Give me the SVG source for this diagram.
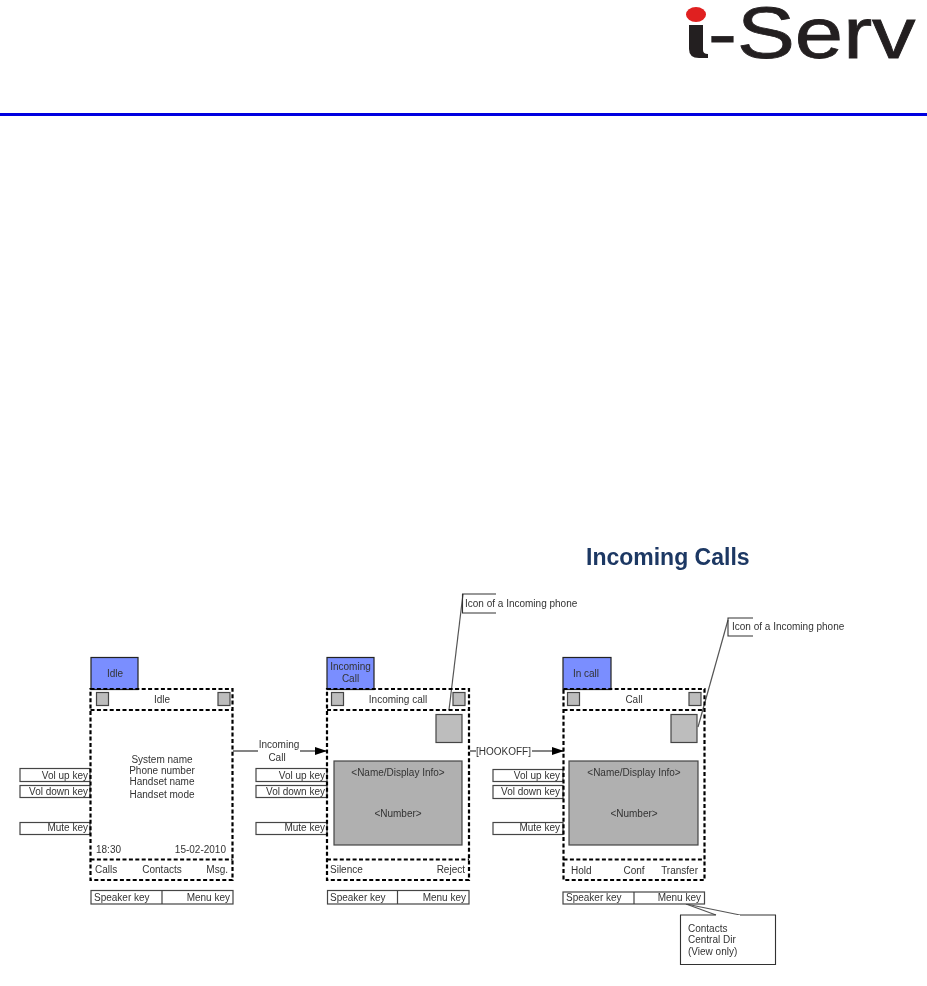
<svg xmlns="http://www.w3.org/2000/svg" width="927" height="986" viewBox="0 0 927 986">
<style>
text{font-family:"Liberation Sans",Arial,sans-serif;font-size:10px;fill:#333}
.m{text-anchor:middle}.e{text-anchor:end}
.tab{fill:#7a8eff;stroke:#222;stroke-width:1.2}
.dash{fill:none;stroke:#000;stroke-width:2.2;stroke-dasharray:4 2.4}
.key{fill:#fff;stroke:#444;stroke-width:1.2}
.ico{fill:#bdbdbd;stroke:#444;stroke-width:1.2}
.disp{fill:#b0b0b0;stroke:#444;stroke-width:1.2}
.ln{fill:none;stroke:#222;stroke-width:1.1}
.ld{fill:none;stroke:#555;stroke-width:1.2}
.callout{fill:#fff;stroke:#333;stroke-width:1.1}
</style>
<defs>
<marker id="arr" markerWidth="13" markerHeight="8" refX="12" refY="4" orient="auto" markerUnits="userSpaceOnUse"><path d="M0 0L12 4L0 8z" fill="#000"/></marker>
<filter id="soft" x="-5%" y="-5%" width="110%" height="110%"><feGaussianBlur stdDeviation="0.35"/></filter>
</defs>
<rect width="927" height="986" fill="#fff"/>
<g id="logo">
<ellipse cx="696" cy="14.500" rx="10" ry="7.500" fill="#e02020"/>
<path d="M689 25H703V50Q703 54 708 54V58H699Q689 58 689 49Z" fill="#231f20"/>
<text transform="translate(708 58) scale(1.19 1)" style="font-size:73px;fill:#231f20;stroke:#231f20;stroke-width:0.8">-Serv</text>
</g>
<rect id="header-rule" x="0" y="113" width="927" height="3" fill="#0000e0"/>
<g filter="url(#soft)">
<text id="title" x="586" y="565" style="font-size:23px;font-weight:bold;fill:#1f3864">Incoming Calls</text>

<g id="connectors">
<path class="ln" d="M233 751H258"/>
<path class="ln" d="M300 751H327" marker-end="url(#arr)"/>
<path class="ln" d="M470 751H476"/>
<path class="ln" d="M532 751H564" marker-end="url(#arr)"/>
<path class="ld" d="M463 594L449 710"/>
<path class="ld" d="M728 620L698 727"/>
<path class="ld" d="M686 904L716 915"/>
<path class="ld" d="M686 904L740 915"/>
</g>

<g id="phone-idle">
<rect class="tab" x="91" y="657.500" width="47" height="32"/>
<text class="m" x="115" y="677">Idle</text>
<rect class="key" x="20" y="768.500" width="70" height="13"/><text class="e" x="88" y="779">Vol up key</text>
<rect class="key" x="20" y="785.500" width="70" height="12"/><text class="e" x="88" y="795">Vol down key</text>
<rect class="key" x="20" y="822.500" width="70" height="12"/><text class="e" x="88" y="831">Mute key</text>
<rect class="dash" x="90.500" y="689" width="142" height="191"/>
<path class="dash" d="M90.500 710H232.500M90.500 859.500H232.500"/>
<rect class="ico" x="96.500" y="692.500" width="12" height="13"/>
<rect class="ico" x="218" y="692.500" width="12" height="13"/>
<text class="m" x="162" y="703">Idle</text>
<text class="m" x="162" y="763">System name</text>
<text class="m" x="162" y="774">Phone number</text>
<text class="m" x="162" y="785">Handset name</text>
<text class="m" x="162" y="798">Handset mode</text>
<text x="96" y="853">18:30</text><text class="e" x="226" y="853">15-02-2010</text>
<text x="95" y="873">Calls</text><text class="m" x="162" y="873">Contacts</text><text class="e" x="228" y="873">Msg.</text>
<rect class="key" x="91" y="890.500" width="142" height="13.500"/>
<path class="key" d="M162 890.500V904"/>
<text x="94" y="901">Speaker key</text><text class="e" x="230" y="901">Menu key</text>
</g>

<text id="label-incoming" class="m" x="279" y="748">Incoming</text>
<text class="m" x="277" y="761">Call</text>

<g id="phone-incoming">
<rect class="tab" x="327" y="657.500" width="47" height="32"/>
<text class="m" x="350.500" y="670">Incoming</text><text class="m" x="350.500" y="682">Call</text>
<rect class="key" x="256" y="768.500" width="71" height="13"/><text class="e" x="325" y="779">Vol up key</text>
<rect class="key" x="256" y="785.500" width="71" height="12"/><text class="e" x="325" y="795">Vol down key</text>
<rect class="key" x="256" y="822.500" width="71" height="12"/><text class="e" x="325" y="831">Mute key</text>
<rect class="dash" x="327" y="689" width="142" height="191"/>
<path class="dash" d="M327 710H469M327 859.500H469"/>
<rect class="ico" x="331.500" y="692.500" width="12" height="13"/>
<rect class="ico" x="453" y="692.500" width="12" height="13"/>
<text class="m" x="398" y="703">Incoming call</text>
<rect class="ico" x="436" y="714.500" width="26" height="28"/>
<rect class="disp" x="334" y="761" width="128" height="84"/>
<text class="m" x="398" y="776">&lt;Name/Display Info&gt;</text>
<text class="m" x="398" y="817">&lt;Number&gt;</text>
<text x="330" y="873">Silence</text><text class="e" x="465" y="873">Reject</text>
<rect class="key" x="327.500" y="890.500" width="141.500" height="13.500"/>
<path class="key" d="M397.500 890.500V904"/>
<text x="330" y="901">Speaker key</text><text class="e" x="466" y="901">Menu key</text>
</g>

<text id="label-hookoff" x="476" y="755">[HOOKOFF]</text>

<g id="phone-incall">
<rect class="tab" x="563" y="657.500" width="48" height="32"/>
<text class="m" x="586" y="677">In call</text>
<rect class="key" x="493" y="769.500" width="70" height="12"/><text class="e" x="560" y="779">Vol up key</text>
<rect class="key" x="493" y="785.500" width="70" height="13"/><text class="e" x="560" y="795">Vol down key</text>
<rect class="key" x="493" y="822.500" width="70" height="12"/><text class="e" x="560" y="831">Mute key</text>
<rect class="dash" x="563.500" y="689" width="141" height="191"/>
<path class="dash" d="M563.500 710H704.500M563.500 859.500H704.500"/>
<rect class="ico" x="567.500" y="692.500" width="12" height="13"/>
<rect class="ico" x="689" y="692.500" width="12" height="13"/>
<text class="m" x="634" y="703">Call</text>
<rect class="ico" x="671" y="714.500" width="26" height="28"/>
<rect class="disp" x="569" y="761" width="129" height="84"/>
<text class="m" x="634" y="776">&lt;Name/Display Info&gt;</text>
<text class="m" x="634" y="817">&lt;Number&gt;</text>
<text x="571" y="874">Hold</text><text class="m" x="634" y="874">Conf</text><text class="e" x="698" y="874">Transfer</text>
<rect class="key" x="563" y="892" width="141.500" height="12"/>
<path class="key" d="M634 892V904"/>
<text x="566" y="901">Speaker key</text><text class="e" x="701" y="901">Menu key</text>
</g>

<g id="callout-icon-1">
<path class="callout" d="M496 594H462.500V613H496" style="fill:none"/>
<text x="465" y="607">Icon of a Incoming phone</text>
</g>
<g id="callout-icon-2">
<path class="callout" d="M753 618H728V636H753" style="fill:none"/>
<text x="732" y="630">Icon of a Incoming phone</text>
</g>
<g id="callout-contacts">
<rect x="680.500" y="915" width="95" height="49.500" fill="#fff" stroke="none"/>
<path class="callout" d="M716 915H680.500V964.500H775.500V915H740" style="fill:none"/>
<text x="688" y="932">Contacts</text>
<text x="688" y="943">Central Dir</text>
<text x="688" y="955">(View only)</text>
</g>
</g>
</svg>
